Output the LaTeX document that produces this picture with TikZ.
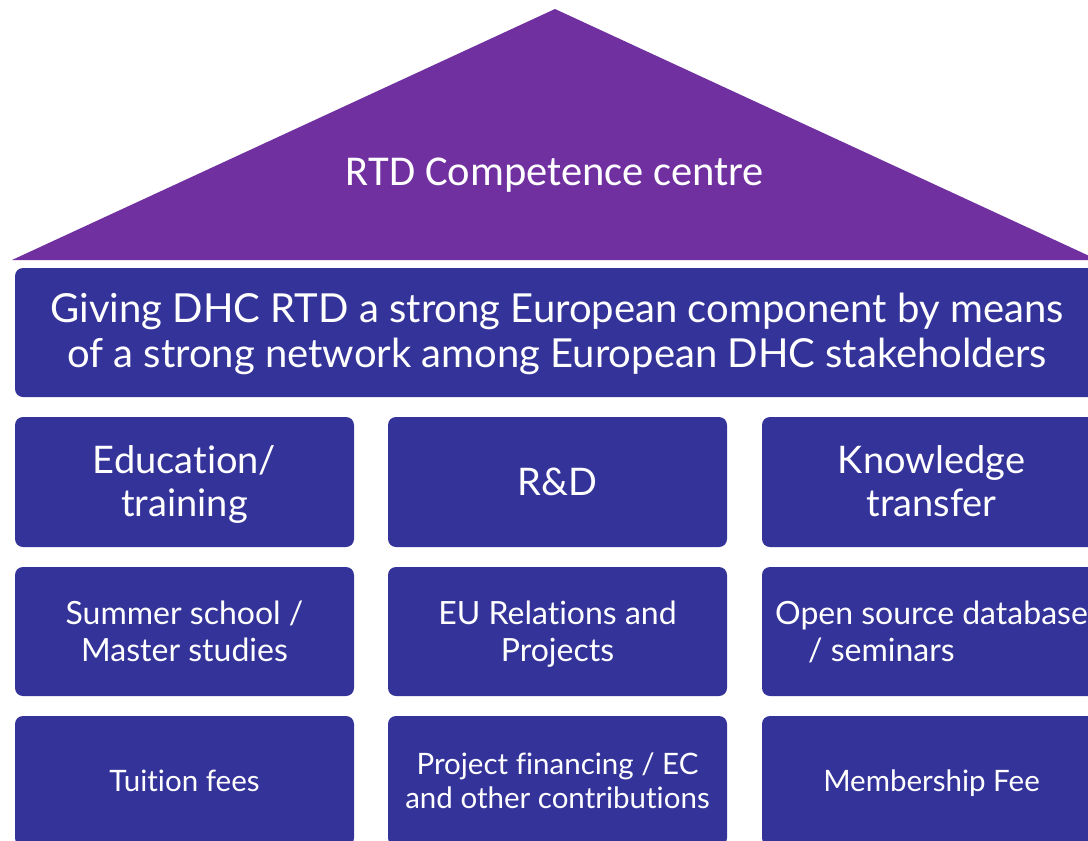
\documentclass[tikz,border=0pt]{standalone}
\usepackage{fontspec}
\setmainfont{Lato}[Ligatures=CommonOff]
\newfontfamily\calib{Carlito}
\definecolor{boxblue}{HTML}{343399}
\definecolor{roofpurple}{HTML}{7030A0}
\tikzset{
  tile/.style={fill=boxblue, draw=none, rounded corners=8pt, inner sep=0pt,
    minimum width=339pt, minimum height=130pt},
  lbl/.style={text=white, align=center, inner sep=0pt,
    execute at begin node=\strut, execute at end node=\strut},
  big/.style={font=\fontsize{38}{43}\selectfont},
  mid/.style={font=\fontsize{32}{37}\selectfont},
  small/.style={font=\fontsize{29.5}{34}\selectfont},
}
\begin{document}
\begin{tikzpicture}[x=1pt,y=-1pt]
\useasboundingbox (0,0) rectangle (1088,841);
\clip (0,0) rectangle (1088,841);
% roof
\coordinate (apex) at (555,9);
\coordinate (bl) at (12,260);
\coordinate (br) at (1098,260);
\fill[roofpurple] (bl) -- (apex) -- (br) -- cycle;
\node[text=white, font=\calib\fontsize{42.5}{50}\selectfont] (roof) at (555,175) {RTD Competence centre};
% banner
\node[tile, minimum width=1095pt, minimum height=129pt] (bannerbox) at (562.5,332.5) {};
\node[lbl, font=\fontsize{40}{45}\selectfont] (banner) at ([yshift=-5pt]bannerbox.center -| 557,0) {Giving DHC RTD a strong European component by means\\of a strong network among European DHC stakeholders};
% row 1
\node[tile] (edu) at (184.5,482) {};
\node[tile] (rd) at (557.5,482) {};
\node[tile] (kt) at (931.5,482) {};
\node[lbl, big] (edut) at ([yshift=-5pt]edu.center) {Education/\\training};
\node[lbl, big] (rdt) at ([yshift=-5pt]rd.center) {R\&D};
\node[lbl, big] (ktt) at ([yshift=-5pt]kt.center) {Knowledge\\transfer};
% row 2
\node[tile, minimum height=129pt] (ss) at (184.5,631.5) {};
\node[tile, minimum height=129pt] (eu) at (557.5,631.5) {};
\node[tile, minimum height=129pt] (os) at (931.5,631.5) {};
\node[lbl, mid] (sst) at ([yshift=-5pt]ss.center) {Summer school /\\Master studies};
\node[lbl, mid] (eut) at ([yshift=-5pt]eu.center) {EU Relations and\\Projects};
\node[lbl, mid] (ost) at ([yshift=-5pt]os.center) {Open source database\\\hspace*{-100pt}/ seminars};
% row 3
\node[tile] (tf) at (184.5,781) {};
\node[tile] (pf) at (557.5,781) {};
\node[tile] (mf) at (931.5,781) {};
\node[lbl, small] (tft) at ([yshift=-4pt]tf.center) {Tuition fees};
\node[lbl, small] (pft) at ([yshift=-5pt]pf.center) {Project financing / EC\\and other contributions};
\node[lbl, small] (mft) at ([yshift=-4pt]mf.center) {Membership Fee};
\end{tikzpicture}
\end{document}
